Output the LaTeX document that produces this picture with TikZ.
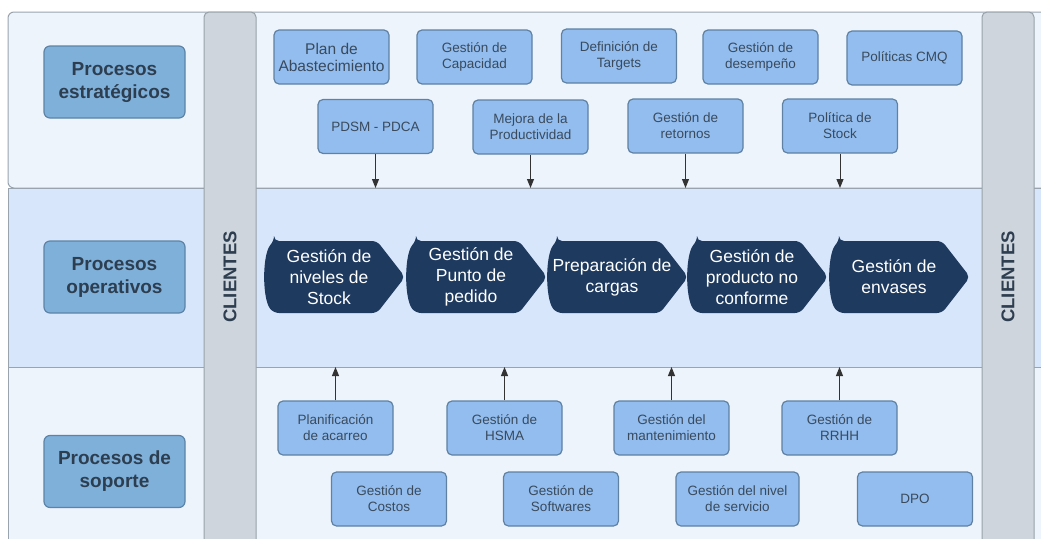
\documentclass[tikz,border=0pt]{standalone}
\usepackage{fontspec}
\setmainfont{Liberation Sans}
\usetikzlibrary{arrows.meta}

\definecolor{bandLight}{HTML}{EEF4FC}
\definecolor{bandMid}{HTML}{D7E6FA}
\definecolor{bandLine}{HTML}{9AA4AE}
\definecolor{barFill}{HTML}{CFD5DC}
\definecolor{barLine}{HTML}{98A1AA}
\definecolor{lblFill}{HTML}{7FB0DA}
\definecolor{lblLine}{HTML}{5D84A6}
\definecolor{lblText}{HTML}{2D3E50}
\definecolor{boxFill}{HTML}{92BDEE}
\definecolor{boxLine}{HTML}{5F81A3}
\definecolor{boxText}{HTML}{3A4A5C}
\definecolor{chevFill}{HTML}{1E3A5F}
\definecolor{arrowCol}{HTML}{333333}

\tikzset{
  band/.style={draw=bandLine, line width=1pt},
  bar/.style={fill=barFill, draw=barLine, line width=1pt, rounded corners=5pt},
  bartext/.style={rotate=90, font=\bfseries\fontsize{18.5}{22}\selectfont, text=lblText},
  lbl/.style={rectangle, rounded corners=6pt, fill=lblFill, draw=lblLine, line width=1.2pt,
    minimum width=141pt, minimum height=72pt, align=center, text=lblText,
    font=\bfseries\fontsize{19}{23}\selectfont},
  sbox/.style={rectangle, rounded corners=5pt, fill=boxFill, draw=boxLine, line width=1.2pt,
    minimum width=115pt, minimum height=54pt, align=center, text=boxText,
    font=\fontsize{13.5}{16}\selectfont, inner sep=2pt},
  chev/.style={fill=chevFill, rounded corners=5pt},
  chevtext/.style={align=center, text=white, font=\fontsize{17.5}{21}\selectfont, inner sep=0pt},
  arr/.style={draw=arrowCol, line width=1pt, -{Triangle[length=9pt,width=7pt]}, shorten >=0pt}
}

% one chevron of the operative chain: name, left x, label
\newcommand\chevstep[3]{%
  \fill[chev] ({#2+9},241) -- ({#2+112},241) -- ({#2+140},277) -- ({#2+112},313)
    -- ({#2+9},313) .. controls ({#2-3},300) and ({#2-3},254) .. cycle;
  \node[chevtext] (#1) at ({#2+64},277) {#3};
}

\begin{document}
\begin{tikzpicture}[x=1pt, y=-1pt]
\useasboundingbox (0,0) rectangle (1041,538);
\clip (0,0) rectangle (1041,538);
\fill[white] (0,0) rectangle (1041,538);

% three horizontal bands
\draw[band, fill=bandLight, rounded corners=6pt] (8,12) rectangle (1060,188);
\draw[band, fill=bandMid] (8,188) rectangle (1060,367);
\draw[band, fill=bandLight] (8,367) rectangle (1060,560);
\coordinate (midTop) at (0,188);
\coordinate (midBot) at (0,367);

% customer bars on both sides
\draw[bar] (204,560) -- (204,12) -- (256,12) -- (256,560);
\draw[bar] (982,560) -- (982,12) -- (1034,12) -- (1034,560);
\node[bartext] (cliL) at (230,277) {CLIENTES};
\node[bartext] (cliR) at (1008,277) {CLIENTES};

% row labels
\node[lbl] (lblE) at (114.5,82) {Procesos\\estratégicos};
\node[lbl] (lblO) at (114.5,277) {Procesos\\operativos};
\node[lbl] (lblS) at (114.5,471.5) {Procesos de\\soporte};

% strategic processes
\node[sbox, font=\fontsize{15.5}{17}\selectfont] (pa) at (331.5,57) {Plan de\\Abastecimiento};
\node[sbox] (gc) at (474.5,57) {Gestión de\\Capacidad};
\node[sbox] (dt) at (619,56) {Definición de\\Targets};
\node[sbox] (gd) at (760.5,57) {Gestión de\\desempeño};
\node[sbox] (pc) at (904.5,58) {Políticas CMQ};
\node[sbox] (pdsm) at (375.5,126.5) {PDSM - PDCA};
\node[sbox] (mp) at (530.5,127) {Mejora de la\\Productividad};
\node[sbox] (gr) at (685.5,126) {Gestión de\\retornos};
\node[sbox] (ps) at (840,126) {Política de\\Stock};

\foreach \n in {pdsm,mp,gr,ps}
  \draw[arr] (\n.south) -- (\n.south |- midTop);

% operative chain
\chevstep{c1}{265}{Gestión de\\niveles de\\Stock}
\chevstep{c2}{407}{Gestión de\\Punto de\\pedido}
\chevstep{c3}{548}{Preparación de\\cargas}
\chevstep{c4}{688}{Gestión de\\producto no\\conforme}
\chevstep{c5}{830}{Gestión de\\envases}

% support processes
\node[sbox] (pla) at (335.5,428) {Planificación\\de acarreo};
\node[sbox] (hsma) at (504.5,428) {Gestión de\\HSMA};
\node[sbox] (mant) at (671.5,428) {Gestión del\\mantenimiento};
\node[sbox] (rrhh) at (839.5,428) {Gestión de\\RRHH};
\node[sbox] (cost) at (389,499) {Gestión de\\Costos};
\node[sbox] (soft) at (561,499) {Gestión de\\Softwares};
\node[sbox, minimum width=123pt] (niv) at (737.5,499) {Gestión del nivel\\de servicio};
\node[sbox] (dpo) at (915,499) {DPO};

\foreach \n in {pla,hsma,mant,rrhh}
  \draw[arr] (\n.north) -- (\n.north |- midBot);
\end{tikzpicture}
\end{document}
